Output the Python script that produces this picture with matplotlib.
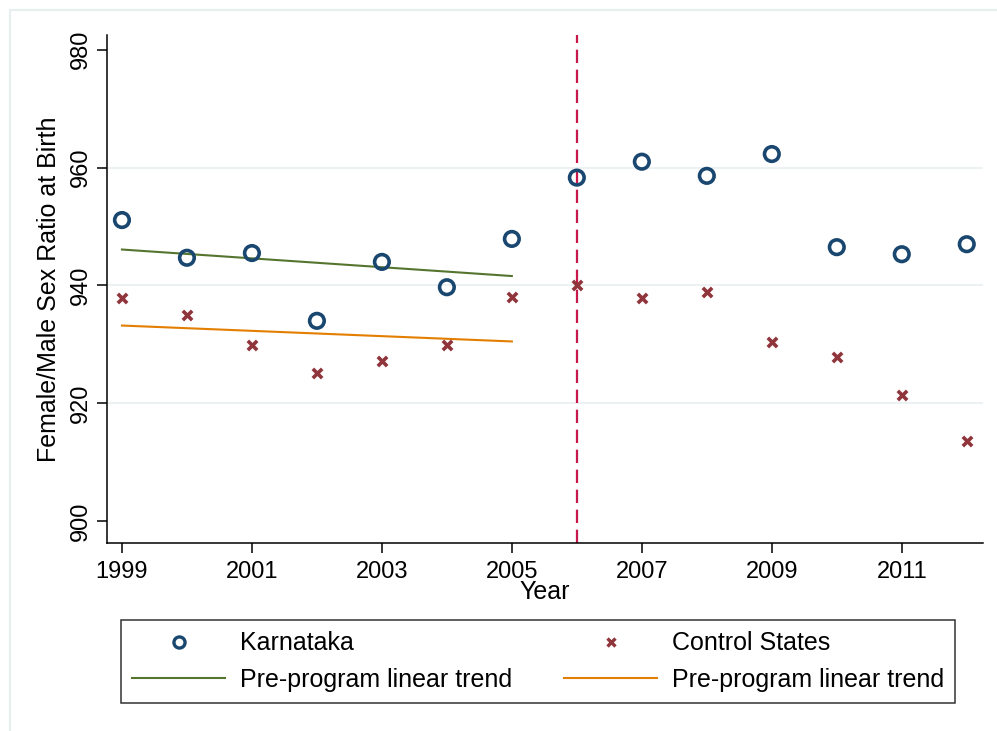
import matplotlib.pyplot as plt
from matplotlib.lines import Line2D
from matplotlib.patches import Rectangle

# Data
years = list(range(1999, 2013))
karnataka = [951.1, 944.7, 945.5, 934.0, 944.0, 939.7, 947.9,
             958.3, 961.0, 958.6, 962.3, 946.5, 945.3, 947.0]
control = [937.9, 935.0, 929.9, 925.1, 927.2, 929.9, 938.0,
           940.1, 937.9, 938.9, 930.4, 927.9, 921.4, 913.6]

# Pre-program linear trend endpoints (1999 and 2005)
trend_years = [1999, 2005]
trend_karnataka = [946.1, 941.6]
trend_control = [933.2, 930.5]

program_year = 2006
x_ticks = [1999, 2001, 2003, 2005, 2007, 2009, 2011]
y_ticks = [900, 920, 940, 960, 980]
grid_y = [920, 940, 960]

NAVY = "#1a476f"
MAROON = "#90353b"
GREEN = "#55752f"
ORANGE = "#e37e00"
RED = "#c8174a"
GRID = "#eaf1f3"

plt.rcParams["font.family"] = ["Liberation Sans", "DejaVu Sans"]

fig = plt.figure(figsize=(9.97, 7.31), dpi=100)
# light outer frame of the graph region
fig.patches.append(Rectangle((10 / 997, -0.1), 1.2, 1 - 10 / 731 + 0.1,
                             transform=fig.transFigure, fill=False,
                             edgecolor="#e6eeee", linewidth=1.5))

ax = fig.add_axes([107 / 997, 1 - 543 / 731, (983 - 107) / 997, (543 - 35) / 731])

for g in grid_y:
    ax.axhline(g, color=GRID, linewidth=1.3, zorder=0)

ax.axvline(program_year, color=RED, linestyle=(0, (6, 3)), linewidth=1.6, zorder=1)

ax.plot(trend_years, trend_karnataka, color=GREEN, linewidth=1.5, zorder=2)
ax.plot(trend_years, trend_control, color=ORANGE, linewidth=1.5, zorder=2)

ax.scatter(years, karnataka, s=110, facecolors="none", edgecolors=NAVY,
           linewidths=2.6, zorder=3)
ax.scatter(years, control, s=45, marker="x", color=MAROON,
           linewidths=2.6, zorder=3)

ax.set_xlim(1998.77, 2012.25)
ax.set_ylim(896.3, 982.5)
ax.set_xticks(x_ticks)
ax.set_yticks(y_ticks)
ax.tick_params(axis="both", direction="out", length=7, width=1.1,
               labelsize=17, colors="black")
ax.tick_params(axis="x", pad=6)
plt.setp(ax.get_yticklabels(), rotation=90, va="center")
ax.tick_params(axis="y", pad=4)

for side in ["top", "right"]:
    ax.spines[side].set_visible(False)
for side in ["left", "bottom"]:
    ax.spines[side].set_linewidth(1.1)

ax.set_xlabel("Year", fontsize=18, labelpad=-2)
ax.set_ylabel("Female/Male Sex Ratio at Birth", fontsize=18, labelpad=6)

handles = [
    Line2D([], [], linestyle="none", marker="o", markersize=8,
           markerfacecolor="none", markeredgecolor=NAVY, markeredgewidth=2.4),
    Line2D([], [], color=GREEN, linewidth=1.5),
    Line2D([], [], linestyle="none", marker="x", markersize=6,
           color=MAROON, markeredgewidth=2.4),
    Line2D([], [], color=ORANGE, linewidth=1.5),
]
labels = ["Karnataka", "Pre-program linear trend",
          "Control States", "Pre-program linear trend"]
leg = fig.legend(handles, labels, ncol=2, loc="upper left",
                 bbox_to_anchor=(121 / 997, 1 - 620 / 731),
                 borderaxespad=0, fontsize=18, frameon=True, fancybox=False,
                 edgecolor="black", handlelength=3.7, handletextpad=0.6,
                 columnspacing=2.1, labelspacing=0.5, borderpad=0.45)
leg.get_frame().set_linewidth(1.1)

fig.savefig("out.png", dpi=100, facecolor="white")
